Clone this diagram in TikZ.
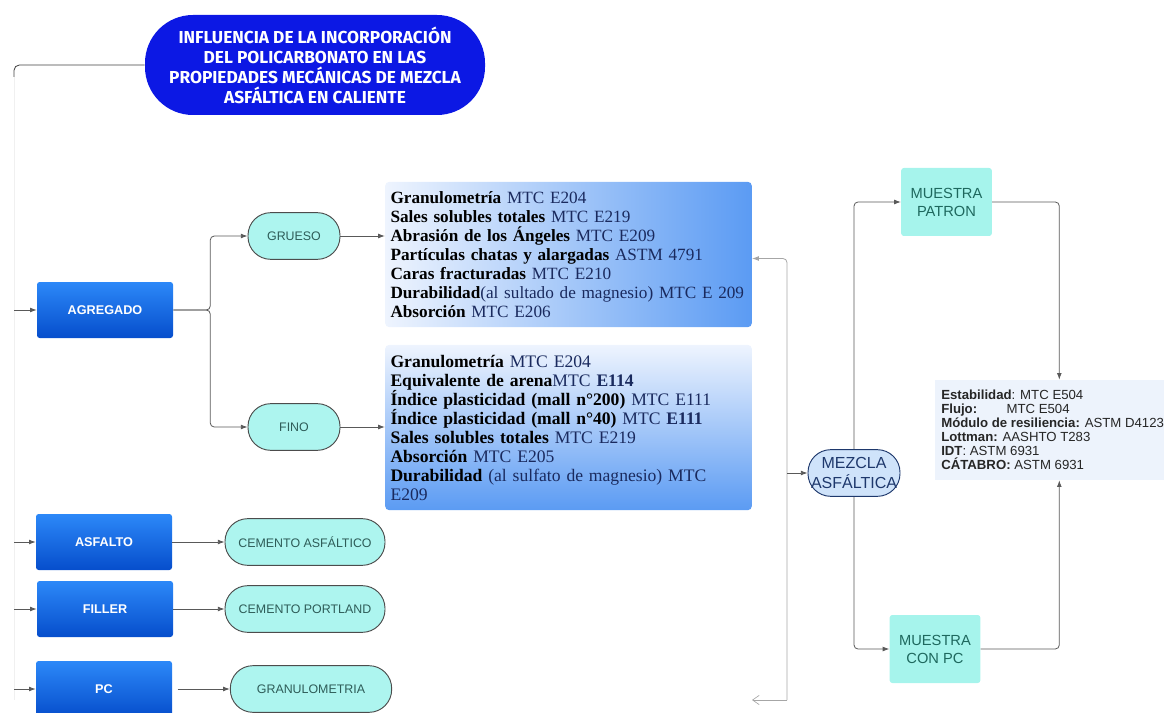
\documentclass[tikz,border=0pt]{standalone}
\usepackage{fontspec}
\setmainfont{Liberation Serif}
\setsansfont{Liberation Sans}
\newfontfamily\titlefont{Fira Sans}
\usetikzlibrary{arrows.meta}
\definecolor{titleblue}{RGB}{12,24,228}
\definecolor{boxtop}{RGB}{44,136,248}
\definecolor{boxbot}{RGB}{6,78,204}
\definecolor{pillfill}{RGB}{173,245,239}
\definecolor{pilltext}{RGB}{46,92,88}
\definecolor{muestrafill}{RGB}{166,244,236}
\definecolor{muestratext}{RGB}{30,104,94}
\definecolor{mezclafill}{RGB}{207,227,250}
\definecolor{mezclaline}{RGB}{30,56,108}
\definecolor{paleblue}{RGB}{238,244,254}
\definecolor{deepblue}{RGB}{91,155,243}
\definecolor{navytext}{RGB}{26,42,94}
\definecolor{resfill}{RGB}{237,243,252}
\begin{document}
\begin{tikzpicture}[x=0.75pt,y=-0.75pt,
  conn/.style={draw=black!65,line width=0.6pt,rounded corners=3pt,-{Latex[length=5pt,width=3.6pt]}},
  bluebox/.style={rectangle,rounded corners=2pt,top color=boxtop,bottom color=boxbot,
    minimum width=102pt,minimum height=42pt,text=white,font=\sffamily\bfseries\fontsize{9.5}{10}\selectfont},
  pill/.style={rectangle,rounded corners=17pt,fill=pillfill,draw=black!70,line width=0.7pt,
    minimum height=35pt,text=pilltext,font=\sffamily\fontsize{9.3}{10}\selectfont},
  muestra/.style={rectangle,rounded corners=2pt,fill=muestrafill,minimum width=68pt,minimum height=51pt,
    align=center,text=muestratext,font=\sffamily\fontsize{11}{13.5}\selectfont},
  ensayo/.style={rectangle,rounded corners=3pt,text width=267pt,inner xsep=4pt,align=left,
    font=\fontsize{13.2}{14.25}\selectfont,text=navytext}]
\useasboundingbox (0,0) rectangle (1164,713);
%
\node[rectangle,rounded corners=36pt,fill=titleblue,minimum width=255pt,minimum height=75pt,
  align=center,text=white,font=\titlefont\bfseries\fontsize{13}{15}\selectfont] (title) at (315,65)
  {INFLUENCIA DE LA INCORPORACIÓN\\DEL POLICARBONATO EN LAS\\PROPIEDADES MECÁNICAS DE MEZCLA\\ASFÁLTICA EN CALIENTE};
%
\node[bluebox] (agr) at (105,310) {AGREGADO};
\node[bluebox] (asf) at (104,542) {ASFALTO};
\node[bluebox] (fil) at (105,609) {FILLER};
\node[bluebox] (pc) at (104,689) {PC};
%
\node[pill,minimum width=69pt] (grueso) at (294,236) {GRUESO};
\node[pill,minimum width=69pt] (fino) at (294,427) {FINO};
\node[pill,minimum width=120pt] (cemasf) at (305,542) {CEMENTO ASFÁLTICO};
\node[pill,minimum width=120pt] (cempor) at (305,609) {CEMENTO PORTLAND};
\node[pill,minimum width=121pt] (granu) at (311,689) {GRANULOMETRIA};
%
\node[ensayo,left color=paleblue,right color=deepblue,minimum height=109pt,
  font=\fontsize{12.9}{14.25}\selectfont] (gruesotest) at (568.5,254.5)
  {\textcolor{black}{\textbf{Granulometría}} MTC E204\\
   \textcolor{black}{\textbf{Sales solubles totales}} MTC E219\\
   \textcolor{black}{\textbf{Abrasión de los Ángeles}} MTC E209\\
   \textcolor{black}{\textbf{Partículas chatas y alargadas}} ASTM 4791\\
   \textcolor{black}{\textbf{Caras fracturadas}} MTC E210\\
   \mbox{\textcolor{black}{\textbf{Durabilidad}}(al sultado de magnesio) MTC E 209}\\
   \textcolor{black}{\textbf{Absorción}} MTC E206};
\node[ensayo,top color=paleblue,bottom color=deepblue,minimum height=124pt] (finotest) at (568.5,427.5)
  {\textcolor{black}{\textbf{Granulometría}} MTC E204\\
   \textcolor{black}{\textbf{Equivalente de arena}}MTC \textbf{E114}\\
   \textcolor{black}{\textbf{Índice plasticidad (mall n°200)}} MTC E111\\
   \textcolor{black}{\textbf{Índice plasticidad (mall n°40)}} MTC \textbf{E111}\\
   \textcolor{black}{\textbf{Sales solubles totales}} MTC E219\\
   \textcolor{black}{\textbf{Absorción}} MTC E205\\
   \textcolor{black}{\textbf{Durabilidad}} (al sulfato de magnesio) MTC\\
   E209};
%
\node[pill,fill=mezclafill,draw=mezclaline,text=mezclaline,minimum width=69pt,inner xsep=1pt,align=center,
  font=\sffamily\fontsize{12}{15}\selectfont] (mezcla) at (854,473) {MEZCLA\\ASFÁLTICA};
\node[muestra] (patron) at (946.5,202) {MUESTRA\\PATRON};
\node[muestra] (conpc) at (935,649) {MUESTRA\\CON PC};
\node[rectangle,anchor=west,fill=resfill,minimum height=75pt,align=left,
  inner xsep=4.5pt,font=\sffamily\fontsize{9.9}{10.5}\selectfont,text=black!85] (ensayos) at (935,430)
  {\textbf{Estabilidad}: MTC E504\\
   \textbf{Flujo:}\hspace{22pt}MTC E504\\
   \textbf{Módulo de resiliencia:} ASTM D4123\\
   \textbf{Lottman:} AASHTO T283\\
   \textbf{IDT}: ASTM 6931\\
   \textbf{CÁTABRO:} ASTM 6931};
%
\coordinate (rail) at (14,65);
\coordinate (rbot) at (787,700);
\coordinate (lost) at (752,700);
\draw[draw=black!75,line width=0.6pt,rounded corners=4pt] (title.west) -- (rail) -- ++(0,12);
\draw[draw=black!6,line width=0.6pt] (14,77) -- (14,700);
\foreach \b in {agr,asf,fil,pc}
  \draw[conn] (rail |- \b.west) -- (\b.west);
%
\draw[conn] (agr.east) -- ++(37,0) |- (grueso.west);
\draw[conn] (agr.east) -- ++(37,0) |- (fino.west);
\draw[conn] (grueso.east) -- (gruesotest.west |- grueso.east);
\draw[conn] (fino.east) -- (finotest.west |- fino.east);
\draw[conn] (asf.east) -- (cemasf.west);
\draw[conn] (fil.east) -- (cempor.west);
\draw[conn] ([xshift=4pt]pc.east) -- (granu.west);
%
\draw[conn,draw=black!35] (rbot) |- ([yshift=-3pt]gruesotest.east);
\draw[conn] (rbot |- mezcla.west) -- (mezcla.west);
\draw[draw=black!35,line width=0.5pt,rounded corners=3pt,-{Straight Barb[length=5pt,width=7pt]}] (rbot) -- (lost);
%
\draw[conn] (mezcla.north) |- (patron.west);
\draw[conn] (mezcla.south) |- (conpc.west);
\draw[conn] (patron.east) -| ([xshift=5pt]ensayos.north);
\draw[conn] (conpc.east) -| ([xshift=5pt]ensayos.south);
\end{tikzpicture}
\end{document}
